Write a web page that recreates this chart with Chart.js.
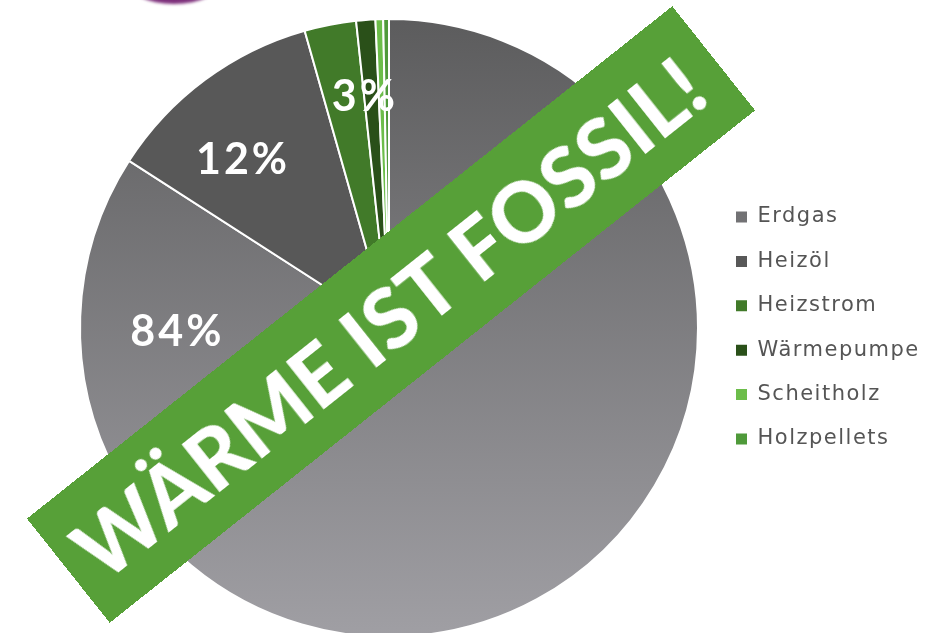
<!DOCTYPE html>
<html lang="de">
<head>
<meta charset="utf-8">
<title>Wärme ist fossil</title>
<script src="https://cdn.jsdelivr.net/npm/chart.js@4.4.1/dist/chart.umd.min.js"></script>
<style>
  html, body { margin: 0; padding: 0; background: #fff; }
  #wrap { position: relative; width: 946px; height: 633px; overflow: hidden; }
  #pie { position: absolute; left: 0; top: 0; }
  .blob {
    position: absolute; left: 126px; top: -44px; width: 96px; height: 48px;
    border-radius: 50%; background: #7d2f7b; filter: blur(1.5px);
  }
  .banner {
    position: absolute; left: -21px; top: 248px; width: 824px; height: 133px;
    background: #57a038; transform: rotate(-38.45deg);
    display: flex; align-items: center; justify-content: center;
    color: #fff; font: 900 83px Lato, sans-serif; white-space: nowrap;
    box-sizing: border-box; padding-right: 8px;
  }
</style>
</head>
<body>
<div id="wrap">
  <div class="blob"></div>
  <canvas id="pie" width="946" height="660"></canvas>
  <div class="banner"><span>WÄRME IST FOSSIL!</span></div>
</div>
<script>
// Anteile der Heizungsarten (%)
const categories = ['Erdgas', 'Heizöl', 'Heizstrom', 'Wärmepumpe', 'Scheitholz', 'Holzpellets'];
const shares = [84.1, 11.5, 2.7, 1.0, 0.4, 0.3];

// styles
const sliceColors = ['#7e7e80', '#585858', '#417a29', '#2a5019', '#6cbd4a', '#4f9a3a'];
// where the percentage labels sit: angle clockwise from 12 o'clock, share of the radius
const labelSpots = { 0: { angle: 269, radius: 0.685 }, 1: { angle: 319, radius: 0.72 }, 2: { angle: 354, radius: 0.75 } };

const legendFont = { family: "'DejaVu Sans', sans-serif", size: 21 };
const legendTracking = '1.5px';
const legendPad = 23.4;
const legendBox = 11;

// measure the legend so the pie lands where it should
const mctx = document.createElement('canvas').getContext('2d');
mctx.font = legendFont.size + 'px ' + legendFont.family;
mctx.letterSpacing = legendTracking;
const maxText = Math.max(...categories.map(t => mctx.measureText(t).width));
const legendW = legendPad + legendBox + legendFont.size / 2 + maxText + 10;
const legendLeft = 736 - legendPad;
const padRight = 946 - legendLeft - legendW;
const padLeft = 2 * 389 - legendLeft;

function sliceFill(c) {
    if (c.dataIndex !== 0) return sliceColors[c.dataIndex];
    const area = c.chart.chartArea;
    if (!area) return sliceColors[0];
    const g = c.chart.ctx.createLinearGradient(0, area.top, 0, area.bottom);
    g.addColorStop(0, '#5c5c5d');
    g.addColorStop(1, '#a09fa4');
    return g;
}

const tracking = {
    id: 'tracking',
    beforeLayout(chart) { chart.ctx.letterSpacing = legendTracking; },
    beforeDraw(chart) { chart.ctx.letterSpacing = legendTracking; }
};

const sliceLabels = {
    id: 'sliceLabels',
    afterDatasetsDraw(chart) {
        const ctx = chart.ctx;
        const meta = chart.getDatasetMeta(0);
        const total = shares.reduce((a, b) => a + b, 0);
        ctx.save();
        ctx.font = 'bold 43px Lato, sans-serif';
        ctx.letterSpacing = '3px';
        ctx.fillStyle = '#ffffff';
        ctx.textAlign = 'center';
        ctx.textBaseline = 'middle';
        meta.data.forEach((arc, i) => {
            const spot = labelSpots[i];
            if (!spot) return;
            const a = (spot.angle - 90) * Math.PI / 180;
            const r = arc.outerRadius * spot.radius;
            ctx.fillText(Math.round(shares[i] / total * 100) + '%', arc.x + Math.cos(a) * r, arc.y + Math.sin(a) * r);
        });
        ctx.restore();
    }
};

new Chart(document.getElementById('pie'), {
    type: 'pie',
    data: {
        labels: categories,
        datasets: [{
            data: shares,
            backgroundColor: sliceFill,
            borderColor: '#ffffff',
            borderWidth: 2
        }]
    },
    options: {
        responsive: false,
        animation: false,
        devicePixelRatio: 1,
        layout: { padding: { top: 18, bottom: 22, left: padLeft, right: padRight } },
        plugins: {
            tooltip: { enabled: false },
            legend: {
                position: 'right',
                labels: {
                    boxWidth: legendBox,
                    boxHeight: legendBox,
                    padding: legendPad,
                    color: '#555555',
                    font: legendFont,
                    generateLabels(chart) {
                        const items = Chart.overrides.pie.plugins.legend.labels.generateLabels(chart);
                        items.forEach(it => { it.lineWidth = 0; });
                        return items;
                    }
                }
            }
        }
    },
    plugins: [tracking, sliceLabels]
});
</script>
</body>
</html>
